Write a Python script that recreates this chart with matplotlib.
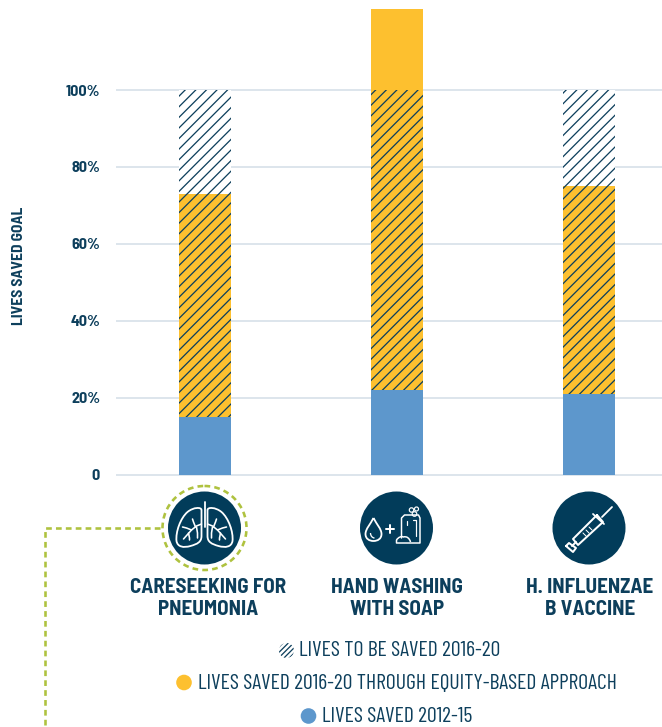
import matplotlib

matplotlib.use("Agg")
import matplotlib.pyplot as plt
from matplotlib.patches import Circle, PathPatch
from matplotlib.path import Path

# 127 dpi makes the '////' hatch come out at the reference's line spacing
DPI = 127
WIDTH, HEIGHT = 662, 727

NAVY = "#023c5a"
TEXT = "#0d3f5c"
BLUE = "#5d97cc"
YELLOW = "#fdc02f"
GREEN = "#afc23f"
GRID = "#dde5ec"

categories = ["CARESEEKING FOR\nPNEUMONIA", "HAND WASHING\nWITH SOAP", "H. INFLUENZAE\nB VACCINE"]
lives_2012_15 = [15, 22, 21]
lives_2016_20 = [58, 99, 54]
goal = [100, 100, 100]
y_ticks = [0, 20, 40, 60, 80, 100]
y_tick_labels = ["0", "20%", "40%", "60%", "80%", "100%"]
legend_labels = [
    "LIVES TO BE SAVED 2016-20",
    "LIVES SAVED 2016-20 THROUGH EQUITY-BASED APPROACH",
    "LIVES SAVED 2012-15",
]

BOLD_FONT = ["Barlow Semi Condensed", "Saira SemiCondensed", "Roboto", "DejaVu Sans"]
NARROW_FONT = ["Barlow Condensed", "Saira ExtraCondensed", "Roboto", "DejaVu Sans"]

plt.rcParams["hatch.linewidth"] = 0.72
plt.rcParams["font.family"] = BOLD_FONT


def pt(px):
    return px * 72 / DPI


fig = plt.figure(figsize=(WIDTH / DPI, HEIGHT / DPI), dpi=DPI)

# chart axes run from the zero line to the top of the picture
ax = fig.add_axes([117 / WIDTH, 1 - 474.5 / HEIGHT, 545 / WIDTH, 474.5 / HEIGHT])
ax.set_xlim((117 - 205) / 192, (662 - 205) / 192)
ax.set_ylim(0, 474.5 / 3.845)

x = range(len(categories))
bar_width = 52 / 192
remaining = [g - a for g, a in zip(goal, lives_2012_15)]

ax.bar(x, goal, width=bar_width, color="white", zorder=2)
ax.bar(x, lives_2012_15, width=bar_width, color=BLUE, zorder=3)
ax.bar(x, lives_2016_20, width=bar_width, bottom=lives_2012_15, color=YELLOW, zorder=3)
ax.bar(x, remaining, width=bar_width, bottom=lives_2012_15, facecolor="none",
       edgecolor=TEXT, hatch="////", linewidth=0, zorder=4)

ax.set_yticks(y_ticks, y_tick_labels, fontsize=pt(16), fontweight="bold", color=TEXT)
ax.set_xticks([])
ax.tick_params(axis="y", length=0, pad=pt(17))
ax.grid(axis="y", color=GRID, linewidth=pt(2))
ax.set_axisbelow(True)
for spine in ax.spines.values():
    spine.set_visible(False)
# zero line sits half outside the axes
for line in ax.get_ygridlines():
    line.set_clip_on(False)

# overlay in reference pixels for the icons, captions and legend
ov = fig.add_axes([0, 0, 1, 1])
ov.set_xlim(0, WIDTH)
ov.set_ylim(HEIGHT, 0)
ov.axis("off")
ov.patch.set_alpha(0)


def stroke(points, lw=1.5, close=False):
    xs, ys = zip(*points)
    if close:
        xs, ys = xs + xs[:1], ys + ys[:1]
    ov.plot(xs, ys, color="white", linewidth=pt(lw), solid_capstyle="round",
            solid_joinstyle="round", zorder=6)


def curve(cx, cy, verts, mirror=1, lw=1.5):
    # verts: start point followed by triples of cubic bezier controls
    pts = [(cx + mirror * vx, cy + vy) for vx, vy in verts]
    codes = [Path.MOVETO] + [Path.CURVE4] * (len(pts) - 1)
    ov.add_patch(PathPatch(Path(pts, codes), facecolor="none", edgecolor="white",
                           linewidth=pt(lw), zorder=6))


def lungs(cx, cy):
    stroke([(cx, cy - 26), (cx, cy - 1)], lw=1.8)
    for m in (-1, 1):
        curve(cx, cy, [(3, -18), (3, -21), (11, -21), (17, -16),
                       (24, -10), (29, 4), (28, 13),
                       (27, 19), (21, 20), (14, 18),
                       (7, 16), (3, 14), (3, 8),
                       (3, -2), (3, -10), (3, -18)], mirror=m, lw=1.8)
        branches = [
            [(3, -4), (8, -2), (13, 2), (21, 11)],
            [(9, -1), (11, -6), (12, -9)],
            [(13, 2), (18, 0), (22, -1)],
            [(16, 5), (15, 10), (15, 12)],
            [(8, -1), (7, 5), (7, 10)],
        ]
        for branch in branches:
            stroke([(cx + m * bx, cy + by) for bx, by in branch], lw=1.6)


def soap(cx, cy):
    # water drop
    curve(cx, cy, [(-23, -10), (-26, -4), (-31, 1), (-31, 6),
                   (-31, 11), (-27, 13), (-23, 13),
                   (-19, 13), (-15, 11), (-15, 6),
                   (-15, 1), (-20, -4), (-23, -10)], lw=1.8)
    curve(cx, cy, [(-26, 5), (-26, 8), (-24, 10), (-22, 10)], lw=1.3)
    # plus
    stroke([(cx - 10.5, cy + 1), (cx - 2.5, cy + 1)], lw=2)
    stroke([(cx - 6.5, cy - 3), (cx - 6.5, cy + 5)], lw=2)
    # pump bottle
    stroke([(cx + 5, cy + 10), (cx + 5, cy - 10), (cx + 8, cy - 13), (cx + 22, cy - 13),
            (cx + 23.5, cy - 10), (cx + 23.5, cy + 15), (cx, cy + 15), (cx, cy + 12)])
    curve(cx, cy, [(0, 12), (2, 9), (5, 8), (7, 9), (10, 8), (13, 10), (14, 14)])
    stroke([(cx + 10, cy - 7), (cx + 10, cy - 3)], lw=1.2)
    stroke([(cx + 16, cy - 8), (cx + 19, cy - 8), (cx + 19, cy + 8)], lw=1.2)
    for bx, by, br in [(15, -18, 2.2), (20, -19, 2), (18, -14, 2.3)]:
        ov.add_patch(Circle((cx + bx, cy + by), br, facecolor="none", edgecolor="white",
                            linewidth=pt(1.2), zorder=6))


def syringe(cx, cy):
    stroke([(cx + 23, cy - 21), (cx + 13, cy - 11)], lw=1.8)
    stroke([(cx + 8, cy - 13), (cx + 14, cy - 6), (cx - 11, cy + 17), (cx - 16, cy + 11)],
           close=True, lw=2)
    stroke([(cx + 4, cy - 14), (cx + 15, cy - 4)], lw=1.8)
    stroke([(cx - 13, cy + 14), (cx - 17, cy + 18)], lw=2)
    stroke([(cx - 23, cy + 18), (cx - 16, cy + 24), (cx - 13, cy + 20), (cx - 20, cy + 15)],
           close=True, lw=2)
    for s in (-3, 0, 3):
        stroke([(cx - 2 + s - 1, cy + 3 - s - 1), (cx - 2 + s + 2, cy + 3 - s + 2)], lw=1)


centers = [204.5, 396.5, 589]
for cx in centers:
    ov.add_patch(Circle((cx, 528), 36.5, facecolor=NAVY, edgecolor="none", zorder=5))
lungs(centers[0], 528)
soap(centers[1], 528)
syringe(centers[2], 528)

# dashed callout from the pneumonia icon
ov.add_patch(Circle((centers[0], 528), 42, facecolor="none", edgecolor=GREEN,
                    linewidth=pt(2.6), linestyle=(0, (2.2, 1.6)), zorder=5))
ov.plot([160, 45, 45], [528, 528, 727], color=GREEN, linewidth=pt(2.6),
        linestyle=(0, (2.2, 1.6)), zorder=5)

for cap_x, cap in zip([208, 397, 590], categories):
    ov.text(cap_x, 598.5, cap, ha="center", va="center", color=TEXT, fontsize=pt(21),
            fontweight="bold", linespacing=1.26)

ov.text(19, 266, "LIVES SAVED GOAL", rotation=90, ha="center", va="center", color=TEXT,
        fontsize=pt(15.5), fontweight="bold")

# legend rows: each one is centred on its own, so keep them as separate texts
legend_kw = dict(ha="left", va="center", color=TEXT, fontsize=pt(21.7), family=NARROW_FONT)
ov.text(299, 651, legend_labels[0], **legend_kw)
ov.text(198, 683.5, legend_labels[1], **legend_kw)
ov.text(322, 716.5, legend_labels[2], **legend_kw)

ov.add_patch(Circle((286.5, 650.5), 7.5, facecolor="white", edgecolor=TEXT, hatch="////////",
                    linewidth=0))
ov.add_patch(Circle((184, 682.5), 7.8, facecolor=YELLOW, edgecolor="none"))
ov.add_patch(Circle((308.5, 716), 7.8, facecolor=BLUE, edgecolor="none"))

fig.savefig("out.png", dpi=DPI)
